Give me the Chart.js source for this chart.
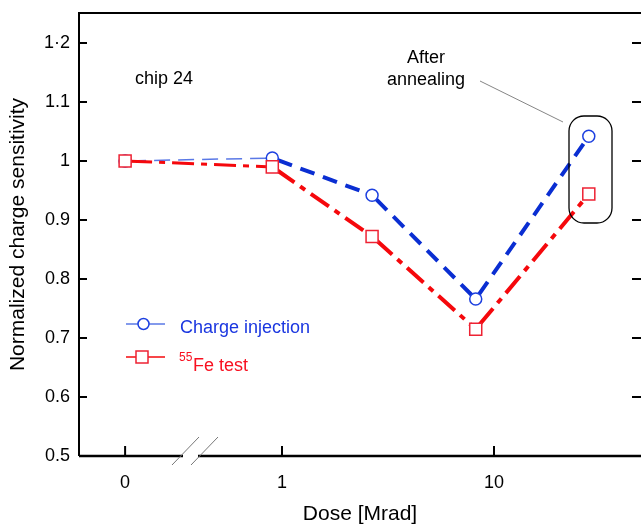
<!DOCTYPE html>
<html>
<head>
<meta charset="utf-8">
<script src="https://cdn.jsdelivr.net/npm/chart.js@4/dist/chart.umd.min.js"></script>
<style>
  body { margin: 0; background: #fff; overflow: hidden; }
</style>
</head>
<body>
<canvas id="sensChart" width="641" height="526"></canvas>
<script>
// dose in Mrad (0 = before irradiation, placed left of the axis break)
const doses = [0, 0.9, 2.66, 8.2, 28];
const chargeInjection = [1.0, 1.005, 0.942, 0.766, 1.042];
const fe55Test = [1.0, 0.99, 0.872, 0.715, 0.944];

const xTickDoses = [0, 1, 10];
const xTickLabels = ['0', '1', '10'];
const yTickValues = [0.5, 0.6, 0.7, 0.8, 0.9, 1.0, 1.1, 1.2];
const yTickLabels = ['0.5', '0.6', '0.7', '0.8', '0.9', '1', '1.1', '1·2'];

const FONT = '"Liberation Sans", Arial, sans-serif';
const ZERO_POS = -0.74;   // where "0" sits on the log axis
function dosePos(d) { return d === 0 ? ZERO_POS : Math.log10(d); }

const BLUE = '#0a2ed2', BLUE_MK = '#1d40e0', BLUE_LT = '#5a78e6';
const RED = '#f5080c', RED_MK = '#ee2233';

const frame = {
  id: 'frame',
  afterDraw(chart) {
    const ctx = chart.ctx, a = chart.chartArea;
    const xs = chart.scales.x, ys = chart.scales.y;
    ctx.save();
    ctx.strokeStyle = '#000';
    ctx.lineWidth = 2;
    ctx.beginPath();
    ctx.moveTo(a.right, a.top); ctx.lineTo(a.left, a.top); ctx.lineTo(a.left, a.bottom);
    ctx.stroke();
    ctx.lineWidth = 2.5;
    ctx.beginPath(); ctx.moveTo(a.left, a.bottom); ctx.lineTo(a.right, a.bottom); ctx.stroke();
    ctx.lineWidth = 2;
    yTickValues.forEach(v => {
      const y = ys.getPixelForValue(v);
      ctx.beginPath();
      ctx.moveTo(a.left, y); ctx.lineTo(a.left + 8, y);
      ctx.moveTo(a.right, y); ctx.lineTo(a.right - 9, y);
      ctx.stroke();
    });
    xTickDoses.forEach(d => {
      const x = xs.getPixelForValue(dosePos(d));
      ctx.beginPath(); ctx.moveTo(x, a.bottom); ctx.lineTo(x, a.bottom - 10); ctx.stroke();
    });
    // axis break
    ctx.fillStyle = '#fff';
    ctx.fillRect(183, a.bottom - 3, 15, 6);
    ctx.strokeStyle = '#777';
    ctx.lineWidth = 1;
    ctx.beginPath();
    ctx.moveTo(172, 465); ctx.lineTo(199, 437);
    ctx.moveTo(191, 465); ctx.lineTo(218, 437);
    ctx.stroke();

    // axis titles
    ctx.fillStyle = '#000';
    ctx.font = '21px ' + FONT;
    ctx.textAlign = 'center';
    ctx.textBaseline = 'alphabetic';
    ctx.fillText('Dose [Mrad]', (a.left + a.right) / 2, 520);
    ctx.save();
    ctx.translate(24, (a.top + a.bottom) / 2);
    ctx.rotate(-Math.PI / 2);
    ctx.fillText('Normalized charge sensitivity', 0, 0);
    ctx.restore();

    // annotations
    ctx.font = '18px ' + FONT;
    ctx.textAlign = 'left';
    ctx.fillText('chip 24', 135, 84);
    ctx.textAlign = 'center';
    ctx.fillText('After', 426, 63);
    ctx.fillText('annealing', 426, 85);
    ctx.strokeStyle = '#666';
    ctx.lineWidth = 0.8;
    ctx.beginPath(); ctx.moveTo(480, 81); ctx.lineTo(563, 122); ctx.stroke();
    ctx.strokeStyle = '#000';
    ctx.lineWidth = 1.3;
    ctx.beginPath(); ctx.roundRect(569, 116, 43, 107, 15); ctx.stroke();

    // legend
    ctx.lineWidth = 1.5;
    ctx.strokeStyle = BLUE_LT;
    ctx.beginPath(); ctx.moveTo(126, 324); ctx.lineTo(165, 324); ctx.stroke();
    ctx.fillStyle = '#fff';
    ctx.strokeStyle = BLUE_MK;
    ctx.beginPath(); ctx.arc(143.5, 324, 5.5, 0, Math.PI * 2); ctx.fill(); ctx.stroke();
    ctx.strokeStyle = RED;
    ctx.beginPath(); ctx.moveTo(126, 357); ctx.lineTo(165, 357); ctx.stroke();
    ctx.strokeStyle = RED_MK;
    ctx.fillRect(136, 351, 12, 12); ctx.strokeRect(136, 351, 12, 12);
    ctx.textAlign = 'left';
    ctx.font = '18px ' + FONT;
    ctx.fillStyle = '#1a36e0';
    ctx.fillText('Charge injection', 180, 333);
    ctx.fillStyle = '#f81020';
    ctx.font = '12px ' + FONT;
    ctx.fillText('55', 179, 361);
    ctx.font = '18px ' + FONT;
    ctx.fillText('Fe test', 193, 371);
    ctx.restore();
  }
};

const ctx = document.getElementById('sensChart').getContext('2d');
new Chart(ctx, {
  type: 'line',
  data: {
    datasets: [{
      label: 'Charge injection',
      data: doses.map((d, i) => ({ x: dosePos(d), y: chargeInjection[i] })),
      borderColor: BLUE,
      borderWidth: 4,
      borderDash: [15, 9],
      fill: false,
      tension: 0,
      pointStyle: 'circle',
      pointRadius: 6,
      pointBorderWidth: 1.5,
      pointBorderColor: BLUE_MK,
      pointBackgroundColor: '#fff',
      order: 2,
      // each segment restarts its dash pattern with a short gap after the marker
      segment: {
        borderWidth: c => c.p0DataIndex === 0 ? 1.5 : 4,
        borderColor: c => c.p0DataIndex === 0 ? BLUE_LT : BLUE,
        borderDash: c => c.p0DataIndex === 0 ? [16, 8] : [15, 9],
        borderDashOffset: c => (c.p0DataIndex === 0 ? 19 : 18) + c.p0DataIndex * 0.01
      }
    }, {
      label: '55Fe test',
      data: doses.map((d, i) => ({ x: dosePos(d), y: fe55Test[i] })),
      borderColor: RED,
      borderWidth: 4,
      borderDash: [22, 7, 6, 7],
      fill: false,
      tension: 0,
      pointStyle: 'rect',
      pointRadius: 8.5,
      pointBorderWidth: 1.5,
      pointBorderColor: RED_MK,
      pointBackgroundColor: '#fff',
      order: 1,
      segment: {
        borderWidth: c => c.p0DataIndex === 0 ? 3 : 4,
        borderDashOffset: c => 37 + c.p0DataIndex * 0.01
      }
    }]
  },
  options: {
    responsive: false,
    animation: false,
    layout: { autoPadding: false, padding: { top: 13, right: 0, left: 0, bottom: 0 } },
    plugins: { legend: { display: false }, tooltip: { enabled: false } },
    scales: {
      x: {
        type: 'linear',
        min: -0.9575,
        max: 1.6934,
        afterBuildTicks: s => { s.ticks = xTickDoses.map(d => ({ value: dosePos(d) })); },
        afterFit: s => {
          s.height = 70;
          s.paddingLeft = 0; s.paddingRight = 0; s.paddingTop = 0; s.paddingBottom = 0;
        },
        grid: { display: false, drawTicks: false },
        border: { display: false },
        ticks: {
          autoSkip: false,
          maxRotation: 0,
          padding: 16,
          color: '#000',
          font: { family: FONT, size: 18 },
          callback: (v, i) => xTickLabels[i]
        }
      },
      y: {
        min: 0.5,
        max: 1.2508,
        afterBuildTicks: s => { s.ticks = yTickValues.map(v => ({ value: v })); },
        afterFit: s => {
          s.width = 79;
          s.paddingLeft = 0; s.paddingRight = 0; s.paddingTop = 0; s.paddingBottom = 0;
        },
        grid: { display: false, drawTicks: false },
        border: { display: false },
        ticks: {
          autoSkip: false,
          padding: 9,
          color: '#000',
          font: { family: FONT, size: 18 },
          callback: (v, i) => yTickLabels[i]
        }
      }
    }
  },
  plugins: [frame]
});
</script>
</body>
</html>
